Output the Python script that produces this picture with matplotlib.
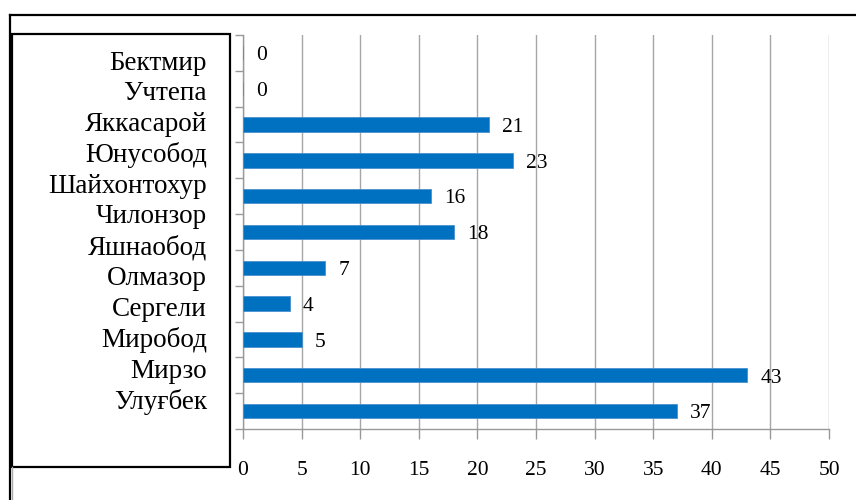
import matplotlib.pyplot as plt
from matplotlib.patches import Rectangle
from matplotlib.lines import Line2D
import numpy as np

plt.rcParams['font.family'] = ['Liberation Serif', 'DejaVu Serif']

# districts and counts, top to bottom
districts = ["Бектмир", "Учтепа", "Яккасарой", "Юнусобод", "Шайхонтохур",
             "Чилонзор", "Яшнаобод", "Олмазор", "Сергели", "Миробод",
             "Мирзо Улуғбек"]
counts = [0, 0, 21, 23, 16, 18, 7, 4, 5, 43, 37]
xticks = [0, 5, 10, 15, 20, 25, 30, 35, 40, 45, 50]

W, H = 856, 500
fig = plt.figure(figsize=(W / 100, H / 100), dpi=100)

def px(x, y):
    # pixel position (from top-left) -> figure fraction
    return x / W, 1 - y / H

ax = fig.add_axes([243 / W, 1 - 429 / H, (829 - 243) / W, (429 - 35) / H])

pos = np.arange(len(counts))
ax.barh(pos, counts, height=0.4, color='#0070C0', edgecolor='#4a90cc',
        linewidth=0.6, zorder=3)
for p, v in zip(pos, counts):
    ax.annotate(str(v), (v, p), xytext=(9.5, -2), textcoords='offset points',
                ha='left', va='center', fontsize=15.5, color='black')

ax.set_xlim(0, 50)
ax.set_ylim(len(counts) - 0.5, -0.5)
ax.set_xticks(xticks)
ax.set_xticklabels([str(t) for t in xticks], fontsize=15.5)
ax.set_yticks(np.arange(len(counts) + 1) - 0.5)
ax.set_yticklabels([])
ax.tick_params(axis='x', direction='out', length=7, width=1, color='#999999',
               pad=16)
ax.tick_params(axis='y', direction='out', length=6, width=1, color='#999999')
ax.grid(axis='x', color='#a6a6a6', linewidth=1, zorder=0)
for side in ['top', 'right']:
    ax.spines[side].set_visible(False)
for side in ['left', 'bottom']:
    ax.spines[side].set_color('#999999')
    ax.spines[side].set_linewidth(1)

# outer frame: top and left edges
x0, y0 = px(10, 15)
fig.add_artist(Line2D([x0, 1.0], [y0, y0], color='black', lw=1.6,
                      transform=fig.transFigure))
fig.add_artist(Line2D([x0, x0], [y0, 0.0], color='black', lw=1.6,
                      transform=fig.transFigure))
fig.add_artist(Line2D([px(12, 0)[0]] * 2, [px(0, 467)[1], 0.0],
                      color='#aaaaaa', lw=1, transform=fig.transFigure))

# boxed list of district names
bx, by = px(12, 467)
bw, bh = (230 - 12) / W, (467 - 34) / H
fig.add_artist(Rectangle((bx, by), bw, bh, fill=False, edgecolor='black',
                         lw=1.6, transform=fig.transFigure))
lines = []
for name in districts:
    lines.extend(name.split(' '))
for i, name in enumerate(lines):
    fig.text(*px(207, 63 + i * 30.8), name, ha='right', va='center',
             fontsize=19.5, color='black')

fig.savefig('out.png', dpi=100)
